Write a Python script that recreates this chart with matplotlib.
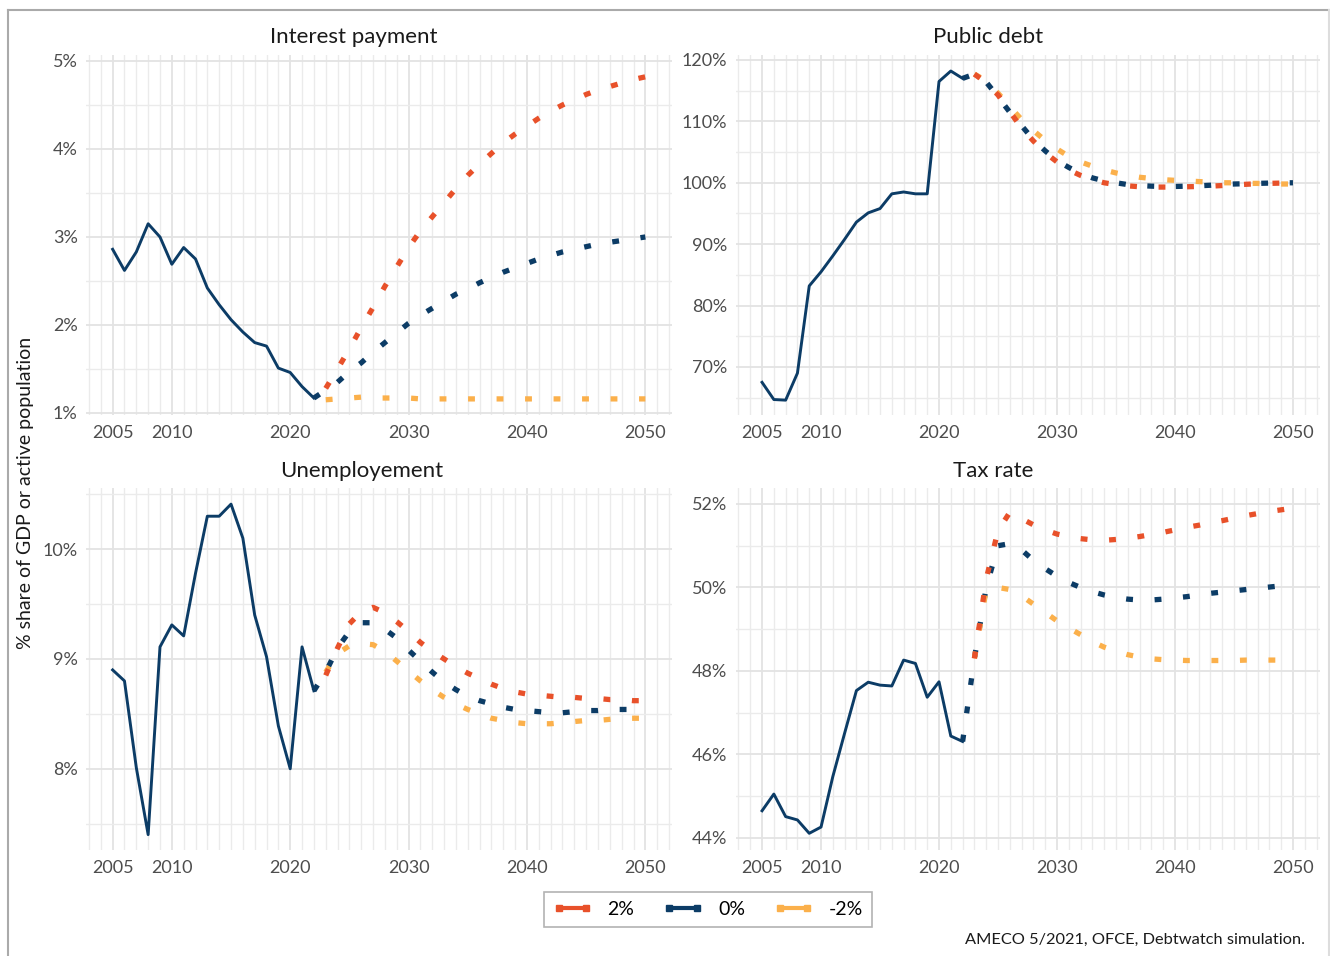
import numpy as np
import matplotlib
matplotlib.use("Agg")
import matplotlib.pyplot as plt
from matplotlib.lines import Line2D
from matplotlib.ticker import FuncFormatter, MultipleLocator

plt.rcParams['font.family'] = ['Lato', 'DejaVu Sans']

# --- data -------------------------------------------------------------
years_hist = list(range(2005, 2023))
years_blue = list(range(2022, 2051))
years_other = list(range(2023, 2051))

interest_hist = [2.86, 2.62, 2.83, 3.15, 3.00, 2.69, 2.88, 2.75, 2.42, 2.23,
                 2.06, 1.92, 1.80, 1.76, 1.51, 1.46, 1.30, 1.17]
interest_0 = [1.17, 1.26, 1.35, 1.47, 1.57, 1.69, 1.80, 1.91, 2.02, 2.11,
              2.19, 2.27, 2.35, 2.41, 2.48, 2.54, 2.60, 2.65, 2.70, 2.75,
              2.79, 2.83, 2.86, 2.89, 2.92, 2.94, 2.96, 2.98, 3.00]
interest_p2 = [1.28, 1.50, 1.73, 1.97, 2.20, 2.44, 2.66, 2.88, 3.07,
               3.23, 3.39, 3.55, 3.70, 3.83, 3.95, 4.07, 4.17, 4.26, 4.35,
               4.43, 4.50, 4.56, 4.62, 4.67, 4.71, 4.75, 4.79, 4.82]
interest_m2 = [1.15, 1.16, 1.17, 1.18, 1.17, 1.17, 1.17, 1.17, 1.16,
               1.16, 1.16, 1.16, 1.16, 1.16, 1.16, 1.16, 1.16, 1.16, 1.16,
               1.16, 1.16, 1.16, 1.16, 1.16, 1.16, 1.16, 1.16, 1.16]

debt_hist = [67.5, 64.7, 64.6, 69.0, 83.2, 85.5, 88.1, 90.8, 93.6, 95.1,
             95.8, 98.2, 98.5, 98.2, 98.2, 116.5, 118.2, 117.0]
debt_0 = [117.0, 117.7, 116.4, 114.0, 111.5, 109.3, 107.0, 105.2, 103.6, 102.5,
          101.5, 100.8, 100.3, 100.0, 99.7, 99.55, 99.45, 99.4, 99.4, 99.45,
          99.5, 99.6, 99.75, 99.8, 99.85, 99.9, 99.95, 100.0, 100.0]
debt_p2 = [117.7, 116.3, 114.3, 111.6, 108.9, 106.8, 104.9, 103.4, 102.1,
           101.2, 100.5, 100.0, 99.7, 99.5, 99.35, 99.3, 99.3, 99.3, 99.35,
           99.4, 99.45, 99.55, 99.65, 99.75, 99.85, 99.9, 99.95, 100.0]
debt_m2 = [117.7, 116.6, 114.6, 112.4, 110.3, 108.5, 106.9, 105.5, 104.3,
           103.4, 102.7, 102.1, 101.6, 101.2, 100.9, 100.7, 100.5, 100.4, 100.3,
           100.2, 100.1, 100.0, 100.0, 99.9, 99.9, 99.8, 99.8, 99.8]

unemp_hist = [8.90, 8.80, 8.01, 7.40, 9.11, 9.31, 9.21, 9.78, 10.30, 10.30,
              10.41, 10.10, 9.40, 9.02, 8.39, 8.00, 9.11, 8.71]
unemp_0 = [8.71, 8.88, 9.10, 9.25, 9.33, 9.33, 9.27, 9.19, 9.08, 8.98,
           8.88, 8.79, 8.72, 8.66, 8.62, 8.59, 8.56, 8.54, 8.53, 8.52,
           8.51, 8.51, 8.52, 8.53, 8.53, 8.54, 8.54, 8.54, 8.54]
unemp_p2 = [8.85, 9.10, 9.32, 9.43, 9.47, 9.42, 9.34, 9.25, 9.15,
            9.07, 9.00, 8.93, 8.87, 8.82, 8.77, 8.73, 8.70, 8.68, 8.67,
            8.66, 8.65, 8.65, 8.64, 8.64, 8.63, 8.63, 8.62, 8.62]
unemp_m2 = [8.88, 9.05, 9.12, 9.14, 9.13, 9.07, 8.98, 8.89, 8.80,
            8.72, 8.65, 8.59, 8.54, 8.50, 8.46, 8.44, 8.42, 8.41, 8.41,
            8.41, 8.42, 8.43, 8.44, 8.44, 8.45, 8.46, 8.46, 8.46]

tax_hist = [44.65, 45.05, 44.51, 44.43, 44.11, 44.26, 45.47, 46.51, 47.53, 47.73,
            47.66, 47.64, 48.26, 48.18, 47.37, 47.74, 46.44, 46.31]
tax_0 = [46.31, 48.30, 50.00, 51.00, 51.05, 50.90, 50.65, 50.45, 50.27, 50.12,
         50.00, 49.90, 49.82, 49.76, 49.72, 49.70, 49.70, 49.72, 49.75, 49.78,
         49.82, 49.86, 49.89, 49.92, 49.95, 49.98, 50.01, 50.04, 50.06]
tax_p2 = [48.30, 50.20, 51.36, 51.80, 51.65, 51.50, 51.38, 51.28, 51.22,
          51.17, 51.14, 51.13, 51.15, 51.18, 51.22, 51.27, 51.32, 51.38, 51.44,
          51.49, 51.55, 51.60, 51.66, 51.72, 51.77, 51.82, 51.86, 51.90]
tax_m2 = [48.30, 49.95, 50.00, 49.95, 49.80, 49.60, 49.40, 49.20, 49.03,
          48.87, 48.70, 48.57, 48.47, 48.39, 48.33, 48.29, 48.27, 48.26, 48.25,
          48.25, 48.25, 48.25, 48.25, 48.26, 48.26, 48.26, 48.26, 48.26]

scenario_labels = ['2%', '0%', '-2%']
col_p2, col_0, col_m2 = '#e8512a', '#0c3c66', '#fbb04b'

panels = [
    ('Interest payment', interest_hist, interest_0, interest_p2, interest_m2,
     (0.977, 5.068), 1, 0.5),
    ('Public debt', debt_hist, debt_0, debt_p2, debt_m2,
     (62.18, 120.81), 10, 5),
    ('Unemployement', unemp_hist, unemp_0, unemp_p2, unemp_m2,
     (7.26, 10.557), 1, 0.5),
    ('Tax rate', tax_hist, tax_0, tax_p2, tax_m2,
     (43.71, 52.383), 2, 1),
]

# --- layout (pixels) --------------------------------------------------
W, H = 1330, 956
fig = plt.figure(figsize=(W / 100, H / 100), dpi=100)
boxes = [(86, 672, 55, 415), (735.5, 1319.5, 55, 415),
         (86, 672, 488, 850), (735.5, 1319.5, 488, 850)]
title_pos = [(354, 37), (988, 37), (362, 471), (993, 471)]

dot = (0, (1.3, 4.1))
for (title, hist, s0, sp2, sm2, ylim, major, minor), (l, r, t, b), (tx, ty) in zip(panels, boxes, title_pos):
    ax = fig.add_axes([l / W, 1 - b / H, (r - l) / W, (b - t) / H])
    ax.plot(years_blue, s0, color=col_0, lw=3.8, linestyle=dot,
            dash_capstyle='butt', zorder=3)
    ax.plot(years_other, sm2, color=col_m2, lw=3.8, linestyle=dot,
            dash_capstyle='butt', zorder=3)
    ax.plot(years_other, sp2, color=col_p2, lw=3.8, linestyle=dot,
            dash_capstyle='butt', zorder=3)
    ax.plot(years_hist, hist, color=col_0, lw=2.1, zorder=4)

    ax.set_xlim(2002.75, 2052.25)
    ax.set_ylim(*ylim)
    ax.set_xticks([2005, 2010, 2020, 2030, 2040, 2050])
    ax.xaxis.set_minor_locator(MultipleLocator(1))
    ax.yaxis.set_major_locator(MultipleLocator(major))
    ax.yaxis.set_minor_locator(MultipleLocator(minor))
    ax.yaxis.set_major_formatter(FuncFormatter(lambda v, p: f'{v:.0f}%'))
    ax.grid(which='major', color='#e3e3e3', lw=1.3)
    ax.grid(which='minor', color='#ebebeb', lw=1.0)
    ax.set_axisbelow(True)
    for s in ax.spines.values():
        s.set_visible(False)
    ax.tick_params(which='both', length=0, labelsize=13, colors='#4d4d4d')
    ax.tick_params(axis='x', pad=7)
    ax.tick_params(axis='y', pad=6)
    fig.text(tx / W, 1 - ty / H, title, ha='center', va='center',
             fontsize=16, color='#1a1a1a')

fig.text(26 / W, 1 - 493 / H, '% share of GDP or active population',
         rotation=90, ha='center', va='center', fontsize=14, color='#1a1a1a')

handles = [Line2D([], [], color=c, lw=3, marker='s', ms=5)
           for c in (col_p2, col_0, col_m2)]
leg = fig.legend(handles, scenario_labels, loc='center', ncol=3,
                 bbox_to_anchor=(708 / W, 1 - 909.5 / H), numpoints=2,
                 fontsize=14, frameon=True, fancybox=False, edgecolor='#a0a0a0',
                 handlelength=2.0, columnspacing=1.5, borderpad=0.45,
                 handletextpad=0.8)
leg.get_frame().set_linewidth(1.2)

fig.text(1305 / W, 1 - 940 / H, 'AMECO 5/2021, OFCE, Debtwatch simulation.',
         ha='right', va='center', fontsize=11.8, color='#1a1a1a')

# outer frame
fig.add_artist(Line2D([7.5 / W, 7.5 / W], [0, 1 - 10 / H], color='#aaaaaa',
                      lw=1.5, transform=fig.transFigure))
fig.add_artist(Line2D([7.5 / W, 1328.5 / W], [1 - 10 / H, 1 - 10 / H],
                      color='#aaaaaa', lw=1.5, transform=fig.transFigure))
fig.add_artist(Line2D([1328.5 / W, 1328.5 / W], [0, 1 - 10 / H], color='#dddddd',
                      lw=1.5, transform=fig.transFigure))

fig.savefig('out.png', dpi=100)
